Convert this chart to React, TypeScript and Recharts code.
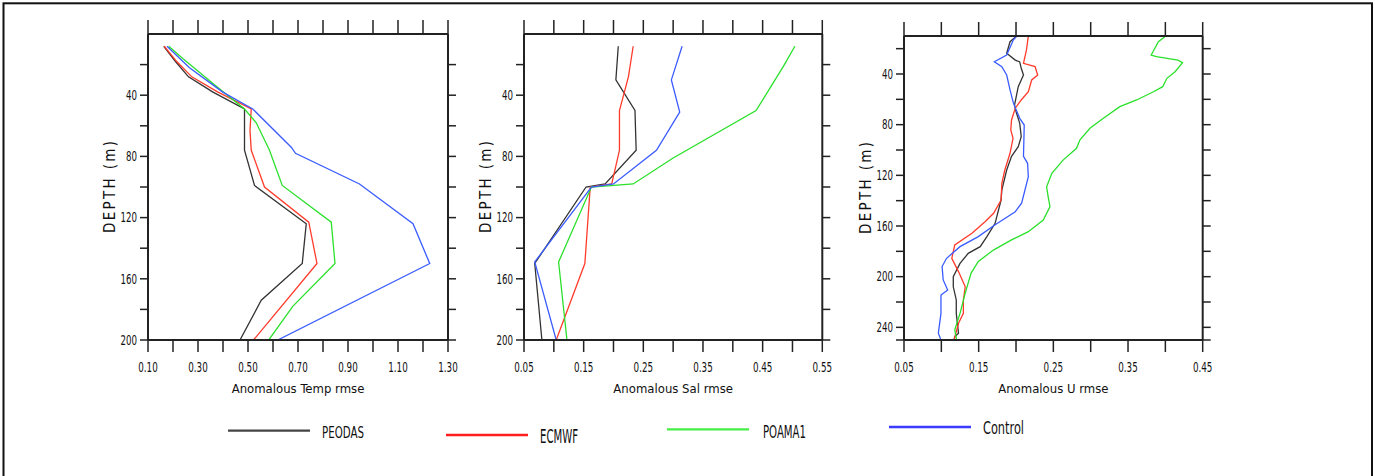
import React from 'react';
import { LineChart, Line, XAxis, YAxis, Label } from 'recharts';

const seriesNames = ['PEODAS', 'ECMWF', 'POAMA1', 'Control'];
const seriesColors = ['#333333', '#ff3b2b', '#2be02b', '#3a5cff'];
const legendColors = ['#444444', '#ff1f1f', '#44ee44', '#3b3bff'];

// ---------- Temperature panel ----------
const tempPeodasDepth = [8, 18, 28, 38, 49, 76, 99, 124, 150, 174, 200];
const tempPeodas = [0.163, 0.21, 0.262, 0.36, 0.486, 0.486, 0.526, 0.733, 0.717, 0.553, 0.468];
const tempEcmwfDepth = [8, 18, 28, 38, 49, 63, 76, 100, 123, 150, 200];
const tempEcmwf = [0.165, 0.215, 0.275, 0.38, 0.513, 0.508, 0.513, 0.566, 0.743, 0.776, 0.522];
const tempPoamaDepth = [8, 16, 34, 49, 58, 76, 99, 123, 150, 178, 200];
const tempPoama = [0.183, 0.239, 0.372, 0.486, 0.533, 0.586, 0.637, 0.833, 0.848, 0.679, 0.583];
const tempControlDepth = [8, 22, 38, 49, 74, 78, 98, 124, 150, 200];
const tempControl = [0.176, 0.266, 0.399, 0.519, 0.673, 0.69, 0.946, 1.16, 1.227, 0.619];

// ---------- Salinity panel ----------
const salPeodasDepth = [8, 30, 50, 76, 98, 100, 150, 200];
const salPeodas = [0.208, 0.204, 0.236, 0.238, 0.186, 0.154, 0.068, 0.08];
const salEcmwfDepth = [8, 28, 50, 76, 98, 100, 150, 200];
const salEcmwf = [0.233, 0.225, 0.21, 0.21, 0.197, 0.161, 0.152, 0.104];
const salPoamaDepth = [8, 21, 50, 81, 98, 100, 149, 200];
const salPoama = [0.504, 0.485, 0.439, 0.3, 0.233, 0.163, 0.108, 0.122];
const salControlDepth = [8, 30, 51, 76, 98, 100, 149, 200];
const salControl = [0.315, 0.297, 0.311, 0.272, 0.2, 0.163, 0.068, 0.104];

// ---------- Zonal velocity panel ----------
const uPeodasDepth = [10, 14.5, 23.7, 29, 30.5, 35.5, 40.8, 50, 64.5, 69.7, 79, 89.5, 97.4, 105, 115.8, 131.6, 139.5, 157.9, 168.4, 176.3, 181.6, 189.5, 200, 208, 218.4, 229, 244.7, 247.4, 250];
const uPeodas = [0.201, 0.192, 0.1875, 0.199, 0.205, 0.207, 0.21, 0.203, 0.198, 0.2, 0.205, 0.207, 0.203, 0.194, 0.1875, 0.181, 0.18, 0.172, 0.161, 0.152, 0.136, 0.125, 0.116, 0.116, 0.12, 0.12, 0.123, 0.118, 0.117];
const uEcmwfDepth = [10, 21, 31.6, 34.2, 40.8, 44.7, 54, 60.5, 67, 76.3, 84.2, 90.8, 102.6, 115.8, 126.3, 139.5, 150, 156.6, 165.8, 175, 185.5, 196, 208, 218.4, 229, 236.8, 250];
const uEcmwf = [0.2165, 0.214, 0.21, 0.2255, 0.229, 0.221, 0.2165, 0.207, 0.199, 0.194, 0.193, 0.196, 0.192, 0.185, 0.181, 0.18, 0.17, 0.1585, 0.141, 0.118, 0.114, 0.123, 0.132, 0.1295, 0.1295, 0.123, 0.117];
const uPoamaDepth = [10, 14.5, 25, 26.3, 29, 31, 38.2, 43.4, 50, 54, 60.5, 65.8, 75, 82.9, 92, 98.7, 108, 118.4, 129, 136.9, 144.7, 155.3, 164.5, 171, 179, 188, 197.4, 213, 229, 242, 250];
const uPoama = [0.4005, 0.3907, 0.381, 0.388, 0.417, 0.423, 0.413, 0.402, 0.3965, 0.384, 0.3615, 0.339, 0.317, 0.299, 0.2857, 0.281, 0.263, 0.248, 0.241, 0.243, 0.2455, 0.2365, 0.2165, 0.194, 0.1697, 0.1495, 0.1397, 0.132, 0.125, 0.118, 0.1205];
const uControlDepth = [10, 13, 25, 30.3, 34.2, 40.8, 52.6, 63, 75, 80.3, 105, 110.5, 121, 142, 148.7, 159, 168.4, 176.3, 185.5, 192, 202.6, 210.5, 214.5, 229, 244.7, 250];
const uControl = [0.201, 0.1965, 0.1875, 0.171, 0.181, 0.1875, 0.192, 0.1965, 0.205, 0.211, 0.21, 0.2155, 0.2165, 0.2075, 0.199, 0.172, 0.1495, 0.125, 0.107, 0.101, 0.1025, 0.1085, 0.0995, 0.0995, 0.096, 0.0995];

// ---------- Ticks ----------
const tempXTicks = [0.1, 0.2, 0.3, 0.4, 0.5, 0.6, 0.7, 0.8, 0.9, 1.0, 1.1, 1.2, 1.3];
const tempXLabels = [0.1, 0.3, 0.5, 0.7, 0.9, 1.1, 1.3];
const salXTicks = [0.05, 0.1, 0.15, 0.2, 0.25, 0.3, 0.35, 0.4, 0.45, 0.5, 0.55];
const salXLabels = [0.05, 0.15, 0.25, 0.35, 0.45, 0.55];
const uXTicks = [0.05, 0.1, 0.15, 0.2, 0.25, 0.3, 0.35, 0.4, 0.45];
const uXLabels = [0.05, 0.15, 0.25, 0.35, 0.45];
const depthTicks200 = [20, 40, 60, 80, 100, 120, 140, 160, 180, 200];
const depthLabels200 = [40, 80, 120, 160, 200];
const depthTicks250 = [20, 40, 60, 80, 100, 120, 140, 160, 180, 200, 220, 240, 250];
const depthLabels250 = [40, 80, 120, 160, 200, 240];

const FONT = '"Liberation Sans Narrow", "DejaVu Sans Condensed", "Arial Narrow", sans-serif';
const AXIS = '#222222';

const zip = (d: number[], v: number[]) => d.map((depth, i) => ({ depth, v: v[i] }));

const panels = [
  {
    left: 0, rightMargin: 21, topMargin: 33,
    xDomain: [0.1, 1.3], xTicks: tempXTicks, xLabels: tempXLabels,
    yDomain: [0, 200], yTicks: depthTicks200, yLabels: depthLabels200,
    title: 'Anomalous Temp rmse',
    series: [zip(tempPeodasDepth, tempPeodas), zip(tempEcmwfDepth, tempEcmwf), zip(tempPoamaDepth, tempPoama), zip(tempControlDepth, tempControl)],
  },
  {
    left: 376, rightMargin: 22.7, topMargin: 33,
    xDomain: [0.05, 0.55], xTicks: salXTicks, xLabels: salXLabels,
    yDomain: [0, 200], yTicks: depthTicks200, yLabels: depthLabels200,
    title: 'Anomalous Sal rmse',
    series: [zip(salPeodasDepth, salPeodas), zip(salEcmwfDepth, salEcmwf), zip(salPoamaDepth, salPoama), zip(salControlDepth, salControl)],
  },
  {
    left: 756, rightMargin: 22.3, topMargin: 35,
    xDomain: [0.05, 0.45], xTicks: uXTicks, xLabels: uXLabels,
    yDomain: [10, 250], yTicks: depthTicks250, yLabels: depthLabels250,
    title: 'Anomalous U rmse',
    series: [zip(uPeodasDepth, uPeodas), zip(uEcmwfDepth, uEcmwf), zip(uPoamaDepth, uPoama), zip(uControlDepth, uControl)],
  },
];

const has = (arr: number[], v: number) => arr.some((a) => Math.abs(a - v) < 1e-6);
const labelLen = (s: string) => s.replace(/\./g, '').length * 5.5 + (s.includes('.') ? 3 : 0);

const makeXTick = (labels: number[]) => (props: any) => {
  const { x, y, payload } = props;
  if (!has(labels, payload.value)) return <g />;
  const s = Number(payload.value).toFixed(2);
  return (
    <text x={x} y={y} dy="0.71em" textAnchor="middle" fontSize={13.5} fontFamily={FONT} fill="#111"
      textLength={labelLen(s)} lengthAdjust="spacingAndGlyphs">
      {s}
    </text>
  );
};

const makeYTick = (labels: number[]) => (props: any) => {
  const { x, y, payload } = props;
  if (!has(labels, payload.value)) return <g />;
  const s = String(payload.value);
  return (
    <text x={x} y={y} dy="0.355em" textAnchor="end" fontSize={13.5} fontFamily={FONT} fill="#111"
      textLength={labelLen(s)} lengthAdjust="spacingAndGlyphs">
      {s}
    </text>
  );
};

const emptyTick = () => <g />;

const makeXTitle = (title: string) => (props: any) => {
  const vb = props.viewBox || {};
  const cx = vb.x + vb.width / 2;
  return (
    <text x={cx} y={vb.y + 48} dy="0.35em" textAnchor="middle" fontSize={13} fontFamily={FONT} fill="#111">
      {title}
    </text>
  );
};

const yTitle = (props: any) => {
  const vb = props.viewBox || {};
  const cx = vb.x + vb.width - 38;
  const cy = vb.y + vb.height / 2;
  return (
    <text x={cx} y={cy} dy="0.35em" textAnchor="middle" fontSize={15} fontFamily={FONT} fill="#111"
      transform={`rotate(-90 ${cx} ${cy})`} textLength={92} lengthAdjust="spacing">
      DEPTH (m)
    </text>
  );
};

const Panel = ({ p }: { p: any }) => (
  <div style={{ position: 'absolute', left: p.left, top: 0 }}>
    <LineChart width={470} height={400} layout="vertical"
      margin={{ top: p.topMargin, right: p.rightMargin, bottom: 0, left: 88 }}>
      <XAxis xAxisId={0} type="number" dataKey="v" orientation="bottom" domain={p.xDomain} allowDataOverflow
        ticks={p.xTicks} interval={0} height={60} tickSize={12} tickMargin={10}
        tick={makeXTick(p.xLabels)} axisLine={{ stroke: AXIS, strokeWidth: 2 }} tickLine={{ stroke: AXIS, strokeWidth: 1.5 }}>
        <Label content={makeXTitle(p.title)} />
      </XAxis>
      <XAxis xAxisId="top" type="number" dataKey="v" orientation="top" domain={p.xDomain} allowDataOverflow
        ticks={p.xTicks} interval={0} height={1} tickSize={14} tick={emptyTick}
        axisLine={{ stroke: AXIS, strokeWidth: 2 }} tickLine={{ stroke: AXIS, strokeWidth: 1.5 }} />
      <YAxis yAxisId={0} type="number" dataKey="depth" orientation="left" domain={p.yDomain} allowDataOverflow
        ticks={p.yTicks} interval={0} width={60} tickSize={8} tickMargin={3}
        tick={makeYTick(p.yLabels)} axisLine={{ stroke: AXIS, strokeWidth: 2 }} tickLine={{ stroke: AXIS, strokeWidth: 1.5 }}>
        <Label content={yTitle} />
      </YAxis>
      <YAxis yAxisId="right" type="number" dataKey="depth" orientation="right" domain={p.yDomain} allowDataOverflow
        ticks={p.yTicks} interval={0} width={1} tickSize={8} tick={emptyTick}
        axisLine={{ stroke: AXIS, strokeWidth: 2 }} tickLine={{ stroke: AXIS, strokeWidth: 1.5 }} />
      {p.series.map((data: any[], i: number) => (
        <Line key={seriesNames[i]} name={seriesNames[i]} data={data} dataKey="v" xAxisId={0} yAxisId={0}
          type="linear" stroke={seriesColors[i]} strokeWidth={1.3} dot={false} activeDot={false}
          isAnimationActive={false} />
      ))}
    </LineChart>
  </div>
);

// Legend placement (matches the original figure's free layout)
const legendLineX = [228, 446, 667, 889];
const legendLineY = [430.7, 435, 429.3, 427];
const legendTextX = [322, 540, 763, 983];
const legendTextY = [437.5, 443, 438.3, 434.3];
const legendTextSize = [15, 20, 17, 18];
const legendTextLen = [42, 38, 43, 41];

export default function App() {
  return (
    <div style={{ position: 'absolute', left: 0, top: 0, width: 1375, height: 476, background: '#fff', overflow: 'hidden' }}>
      <svg width={1375} height={476} style={{ position: 'absolute', left: 0, top: 0 }}>
        <rect x={3.5} y={3.3} width={1368.5} height={500} fill="none" stroke="#111" strokeWidth={2} />
        {seriesNames.map((n, i) => (
          <g key={n}>
            <line x1={legendLineX[i]} x2={legendLineX[i] + 82} y1={legendLineY[i]} y2={legendLineY[i]}
              stroke={legendColors[i]} strokeWidth={2.3} />
            <text x={legendTextX[i]} y={legendTextY[i]} fontSize={legendTextSize[i]} fontFamily={FONT} fill="#111"
              textLength={legendTextLen[i]} lengthAdjust="spacingAndGlyphs">{n}</text>
          </g>
        ))}
      </svg>
      {panels.map((p, i) => <Panel key={i} p={p} />)}
    </div>
  );
}
